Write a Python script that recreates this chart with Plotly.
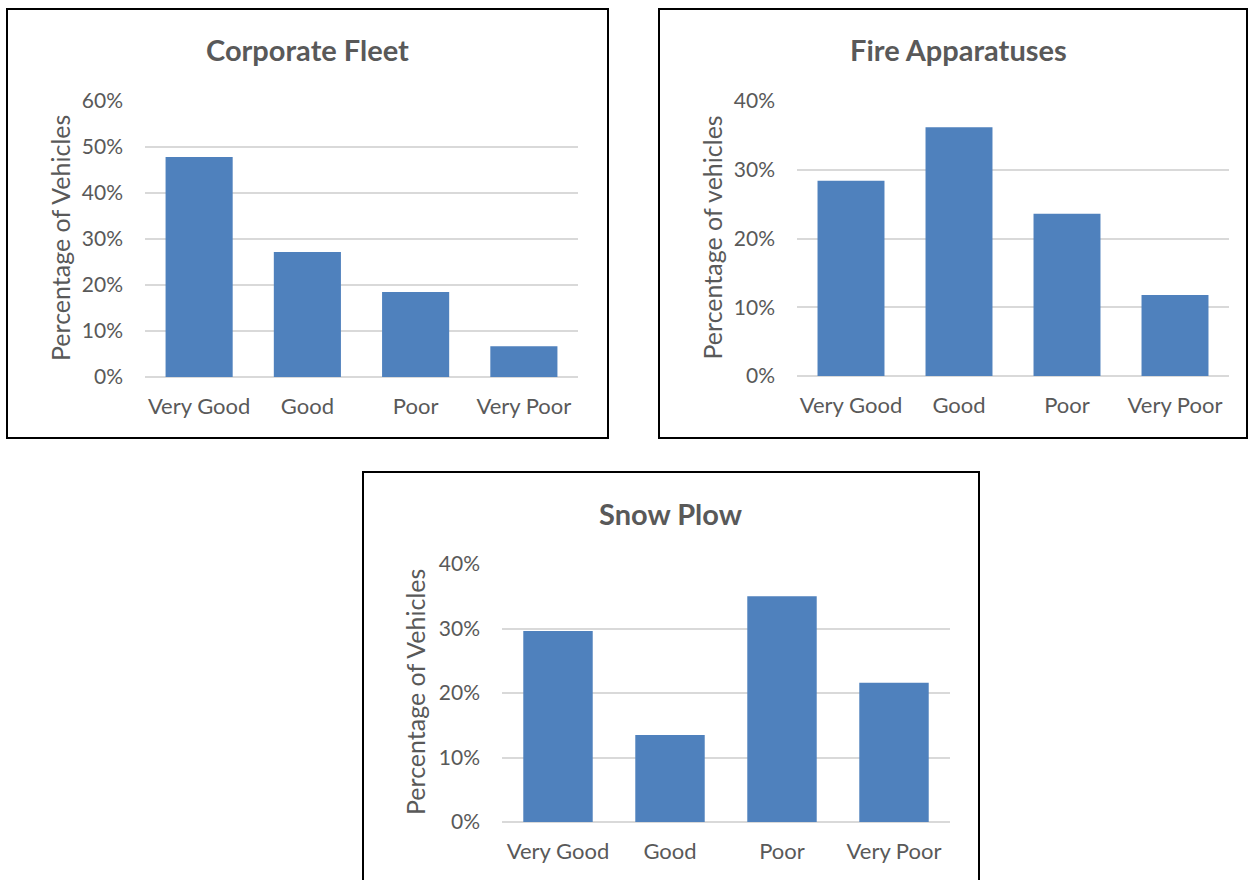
import plotly.graph_objects as go

# Vehicle condition distribution for three fleets
conditions = ["Very Good", "Good", "Poor", "Very Poor"]
corporate_fleet = [0.478, 0.272, 0.185, 0.067]
fire_apparatuses = [0.284, 0.362, 0.236, 0.118]
snow_plow = [0.296, 0.135, 0.350, 0.216]

W, H = 1248, 880
BAR = "#4f81bd"
GRID = "#d9d9d9"
TXT = "#595959"
FONT = "Lato"


def fx(px):
    return px / W


def fy(px):
    return 1 - px / H


panels = [
    # (title, values, y max, y title, plot box [x0, x1, ytop, ybottom], frame box, title pos, ytitle x)
    ("Corporate Fleet", corporate_fleet, 0.6, "Percentage of Vehicles",
     (145, 578, 101, 377), (7, 608, 9, 438), (307, 50), 60),
    ("Fire Apparatuses", fire_apparatuses, 0.4, "Percentage of vehicles",
     (797, 1229, 101, 376), (659, 1247, 9, 438), (958, 50), 711),
    ("Snow Plow", snow_plow, 0.4, "Percentage of Vehicles",
     (502, 950, 564, 822), (363, 979, 472, 895), (671, 513), 415),
]

fig = go.Figure()
shapes = []
annotations = []

for i, (title, vals, ymax, ytitle, box, frame, tpos, ytx) in enumerate(panels):
    n = "" if i == 0 else str(i + 1)
    x0, x1, yt, yb = box
    fig.add_trace(go.Bar(
        x=conditions, y=vals, marker=dict(color=BAR, line=dict(width=0)),
        xaxis="x" + n, yaxis="y" + n, showlegend=False,
    ))
    fig.update_layout(**{
        "xaxis" + n: dict(
            domain=[fx(x0), fx(x1)], anchor="y" + n, showgrid=False,
            showline=False, ticks="", tickfont=dict(family=FONT, size=22, color=TXT),
            ticklabelstandoff=14, automargin=False, fixedrange=True,
        ),
        "yaxis" + n: dict(
            domain=[fy(yb), fy(yt)], anchor="x" + n, range=[0, ymax], dtick=0.1,
            tickformat=".0%", showgrid=True, gridcolor=GRID, gridwidth=2,
            zeroline=True, zerolinecolor=GRID, zerolinewidth=2, showline=False,
            ticks="", tickfont=dict(family=FONT, size=21, color=TXT),
            ticklabelstandoff=21, automargin=False, fixedrange=True,
        ),
    })
    fx0, fx1, fyt, fyb = frame
    shapes.append(dict(
        type="rect", xref="paper", yref="paper",
        x0=fx(fx0), x1=fx(fx1), y0=fy(fyb), y1=fy(fyt),
        line=dict(color="#000000", width=2), fillcolor="rgba(0,0,0,0)", layer="above",
    ))
    annotations.append(dict(
        text="<b>" + title + "</b>", xref="paper", yref="paper",
        x=fx(tpos[0]), y=fy(tpos[1]), xanchor="center", yanchor="middle",
        showarrow=False, font=dict(family=FONT, size=29, color=TXT),
    ))
    annotations.append(dict(
        text=ytitle, xref="paper", yref="paper", textangle=-90,
        x=fx(ytx), y=fy((yt + yb) / 2 - 1), xanchor="center", yanchor="middle",
        showarrow=False, font=dict(family=FONT, size=25, color=TXT),
    ))

fig.update_layout(
    width=W, height=H, margin=dict(l=0, r=0, t=0, b=0, autoexpand=False),
    paper_bgcolor="white", plot_bgcolor="white",
    bargap=0.38, shapes=shapes, annotations=annotations,
)

fig.write_html("out.html")
